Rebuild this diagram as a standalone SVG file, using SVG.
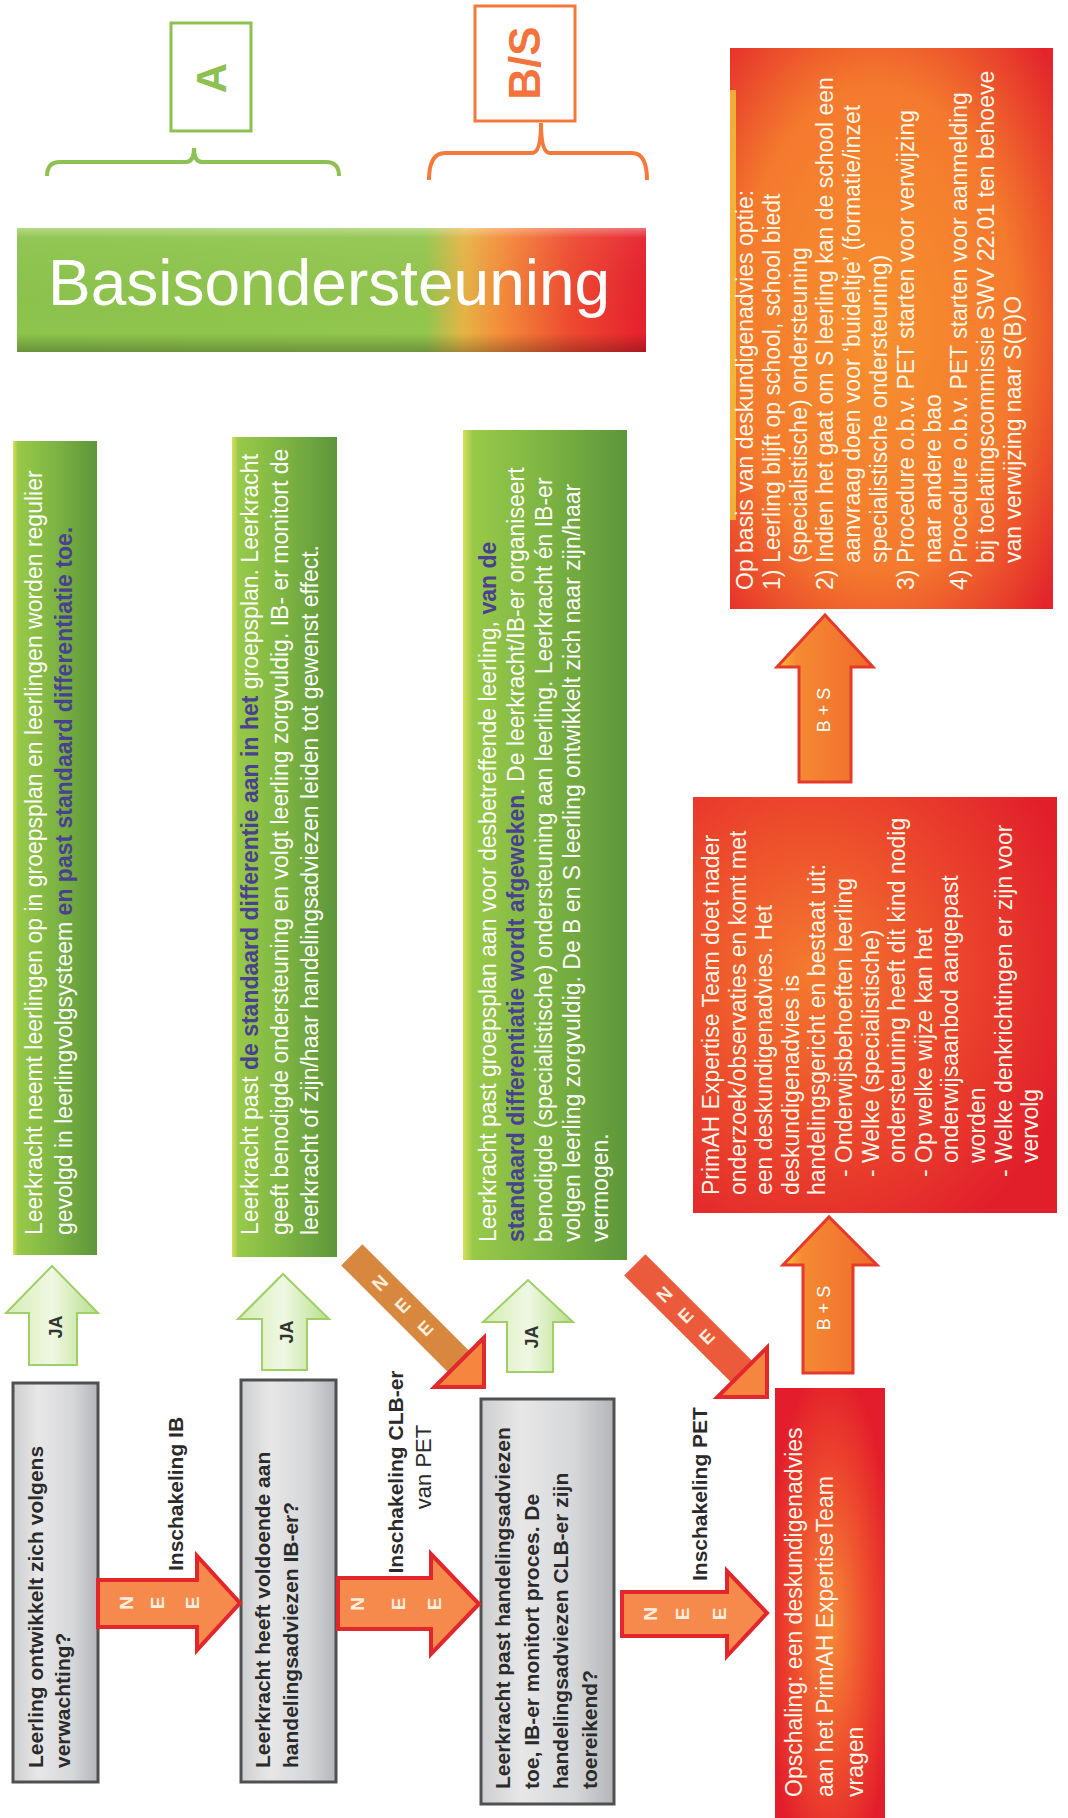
<svg xmlns="http://www.w3.org/2000/svg" width="1068" height="1818" viewBox="0 0 1068 1818">
<defs>
<linearGradient id="gBar" x1="0" y1="0" x2="1" y2="0">
<stop offset="0" stop-color="#8cc44c"/><stop offset="0.65" stop-color="#93c64e"/><stop offset="0.71" stop-color="#e6b445"/><stop offset="0.77" stop-color="#f48c3a"/><stop offset="0.88" stop-color="#ee4a30"/><stop offset="1" stop-color="#e61f2d"/>
</linearGradient>
<linearGradient id="gBevel" x1="0" y1="0" x2="0" y2="1">
<stop offset="0" stop-color="#fff" stop-opacity="0.35"/><stop offset="0.08" stop-color="#fff" stop-opacity="0.05"/><stop offset="0.85" stop-color="#000" stop-opacity="0"/><stop offset="1" stop-color="#000" stop-opacity="0.25"/>
</linearGradient>
<linearGradient id="gGreen" x1="0" y1="0" x2="1" y2="0">
<stop offset="0" stop-color="#d8e05a"/><stop offset="0.06" stop-color="#98c948"/><stop offset="0.5" stop-color="#7db443"/><stop offset="1" stop-color="#5d963b"/>
</linearGradient>
<linearGradient id="gGrey" x1="0" y1="0" x2="1" y2="0">
<stop offset="0" stop-color="#cdcecf"/><stop offset="0.3" stop-color="#e7e7e8"/><stop offset="0.7" stop-color="#d6d7d9"/><stop offset="1" stop-color="#b3b5b8"/>
</linearGradient>
<radialGradient id="gOrange" cx="0.45" cy="0.5" r="0.72">
<stop offset="0" stop-color="#f7902f"/><stop offset="0.6" stop-color="#f47a2d"/><stop offset="1" stop-color="#e3242b"/>
</radialGradient>
<radialGradient id="gPrim" cx="0.32" cy="0.42" r="0.75">
<stop offset="0" stop-color="#f47a2e"/><stop offset="0.5" stop-color="#ec4a2c"/><stop offset="1" stop-color="#e11f2b"/>
</radialGradient>
<radialGradient id="gOps" cx="0.5" cy="0.55" r="0.6">
<stop offset="0" stop-color="#f68a38"/><stop offset="0.55" stop-color="#ee4d2e"/><stop offset="1" stop-color="#e31d2b"/>
</radialGradient>
<linearGradient id="gJa" x1="0" y1="0" x2="1" y2="0">
<stop offset="0" stop-color="#d3edb1"/><stop offset="0.5" stop-color="#eff8e3"/><stop offset="1" stop-color="#b8df8a"/>
</linearGradient>
<linearGradient id="gBS" x1="0" y1="0" x2="1" y2="0">
<stop offset="0" stop-color="#f9c23c"/><stop offset="0.2" stop-color="#f58a32"/><stop offset="1" stop-color="#ef6a2c"/>
</linearGradient>
<style>
.t{font-family:"Liberation Sans",Arial,sans-serif}
.gw{fill:#ffffff;font-size:23px}
.b{font-weight:bold;fill:#4a4090}
.ow{fill:#fff6e8;font-size:23px}
.gq{fill:#2a2a2a;font-size:21px;font-weight:bold}
.lbl{fill:#2a2a2a;font-size:21px;font-weight:bold}
.ja{fill:url(#gJa);stroke:#9fcf66;stroke-width:2}
.nee{fill:#f68a4c;stroke:#e3252c;stroke-width:4;stroke-linejoin:miter}
.bs{fill:url(#gBS);stroke:#e53a2a;stroke-width:3}
.nl{fill:#ffeedd;font-size:19px;font-weight:bold}
.grey{fill:url(#gGrey);stroke:#505050;stroke-width:3}
.green{fill:url(#gGreen)}
</style>
</defs>

<g id="label-A">
<rect x="171" y="23" width="80" height="108" fill="none" stroke="#8cc152" stroke-width="3"/>
<text class="t" transform="translate(226,78) rotate(-90)" text-anchor="middle" font-size="42" font-weight="bold" fill="#8cc152">A</text>
</g>
<g id="label-BS">
<rect x="475" y="6" width="100" height="115" fill="none" stroke="#f4773c" stroke-width="3"/>
<text class="t" transform="translate(540,63) rotate(-90)" text-anchor="middle" font-size="44" font-weight="bold" fill="#f4733c">B/S</text>
</g>
<g id="brace-A">
<path d="M47,176 Q47,162 60,162 L186,162 Q194,162 194,148 Q194,162 202,162 L326,162 Q339,162 339,176" fill="none" stroke="#8dc153" stroke-width="4"/>
</g>
<g id="brace-BS">
<path d="M429,180 Q429,153 445,153 L532,153 Q541,153 541,123 Q541,153 550,153 L632,153 Q647,153 647,180" fill="none" stroke="#f5793b" stroke-width="4"/>
</g>

<g id="basisondersteuning">
<rect x="17" y="228" width="629" height="124" fill="url(#gBar)"/>
<rect x="17" y="228" width="629" height="124" fill="url(#gBevel)"/>
<text class="t" x="48" y="305" font-size="64" fill="#ffffff">Basisondersteuning</text>
</g>

<g id="green-1">
<rect class="green" x="13" y="441" width="84" height="814"/>
<text class="t gw" transform="translate(0,1235) rotate(-90)"><tspan x="0" y="42">Leerkracht neemt leerlingen op in groepsplan en leerlingen worden regulier</tspan><tspan x="0" y="72">gevolgd in leerlingvolgsysteem <tspan class="b">en past standaard differentiatie toe.</tspan></tspan></text>
</g>
<g id="green-2">
<rect class="green" x="232" y="437" width="105" height="820"/>
<text class="t gw" transform="translate(0,1235) rotate(-90)"><tspan x="0" y="258">Leerkracht past <tspan class="b">de standaard differentie aan in het</tspan> groepsplan. Leerkracht</tspan><tspan x="0" y="288">geeft benodigde ondersteuning en volgt leerling zorgvuldig. IB- er monitort de</tspan><tspan x="0" y="318">leerkracht of zijn/haar handelingsadviezen leiden tot gewenst effect.</tspan></text>
</g>
<g id="green-3">
<rect class="green" x="463" y="430" width="164" height="830"/>
<text class="t gw" transform="translate(0,1242) rotate(-90)"><tspan x="0" y="496">Leerkracht past groepsplan aan voor desbetreffende leerling, <tspan class="b">van de</tspan></tspan><tspan x="0" y="524"><tspan class="b">standaard differentiatie wordt afgeweken</tspan>. De leerkracht/IB-er organiseert</tspan><tspan x="0" y="552">benodigde (specialistische) ondersteuning aan leerling. Leerkracht én IB-er</tspan><tspan x="0" y="580">volgen leerling zorgvuldig. De B en S leerling ontwikkelt zich naar zijn/haar</tspan><tspan x="0" y="608">vermogen.</tspan></text>
</g>

<g id="opbasis">
<rect x="730" y="48" width="323" height="561" fill="url(#gOrange)"/>
<rect x="730" y="90" width="6" height="430" fill="#f3c63a" opacity="0.8"/>
<text class="t ow" transform="translate(0,590) rotate(-90)"><tspan x="0" y="753">Op basis van deskundigenadvies optie:</tspan><tspan x="0" y="780">1)</tspan><tspan x="27" y="780">Leerling blijft op school, school biedt</tspan><tspan x="27" y="807">(specialistische) ondersteuning</tspan><tspan x="0" y="833">2)</tspan><tspan x="27" y="833">Indien het gaat om S leerling kan de school een</tspan><tspan x="27" y="860">aanvraag doen voor ‘buideltje’ (formatie/inzet</tspan><tspan x="27" y="887">specialistische ondersteuning)</tspan><tspan x="0" y="914">3)</tspan><tspan x="27" y="914">Procedure o.b.v. PET starten voor verwijzing</tspan><tspan x="27" y="941">naar andere bao</tspan><tspan x="0" y="967">4)</tspan><tspan x="27" y="967">Procedure o.b.v. PET starten voor aanmelding</tspan><tspan x="27" y="994">bij toelatingscommissie SWV 22.01 ten behoeve</tspan><tspan x="27" y="1021">van verwijzing naar S(B)O</tspan></text>
</g>

<g id="primah">
<rect x="693" y="797" width="364" height="416" fill="url(#gPrim)"/>
<text class="t ow" transform="translate(0,1195) rotate(-90)"><tspan x="0" y="719">PrimAH Expertise Team doet nader</tspan><tspan x="0" y="746">onderzoek/observaties en komt met</tspan><tspan x="0" y="772">een deskundigenadvies. Het</tspan><tspan x="0" y="799">deskundigenadvies is</tspan><tspan x="0" y="825">handelingsgericht en bestaat uit:</tspan><tspan x="18" y="852">-</tspan><tspan x="32" y="852">Onderwijsbehoeften leerling</tspan><tspan x="18" y="879">-</tspan><tspan x="32" y="879">Welke (specialistische)</tspan><tspan x="32" y="905">ondersteuning heeft dit kind nodig</tspan><tspan x="18" y="932">-</tspan><tspan x="32" y="932">Op welke wijze kan het</tspan><tspan x="32" y="958">onderwijsaanbod aangepast</tspan><tspan x="32" y="985">worden</tspan><tspan x="18" y="1012">-</tspan><tspan x="32" y="1012">Welke denkrichtingen er zijn voor</tspan><tspan x="32" y="1038">vervolg</tspan></text>
</g>

<g id="opschaling">
<rect x="775" y="1388" width="110" height="432" fill="url(#gOps)"/>
<text class="t ow" transform="translate(0,1797) rotate(-90)"><tspan x="0" y="802">Opschaling: een deskundigenadvies</tspan><tspan x="0" y="833">aan het PrimAH ExpertiseTeam</tspan><tspan x="0" y="863">vragen</tspan></text>
</g>

<g id="question-1">
<rect class="grey" x="13" y="1383" width="85" height="399"/>
<text class="t gq" transform="translate(0,1768) rotate(-90)"><tspan x="0" y="43">Leerling ontwikkelt zich volgens</tspan><tspan x="0" y="70">verwachting?</tspan></text>
</g>
<g id="question-2">
<rect class="grey" x="241" y="1380" width="95" height="402"/>
<text class="t gq" transform="translate(0,1768) rotate(-90)"><tspan x="0" y="270">Leerkracht heeft voldoende aan</tspan><tspan x="0" y="298">handelingsadviezen IB-er?</tspan></text>
</g>
<g id="question-3">
<rect class="grey" x="481" y="1399" width="133" height="405"/>
<text class="t gq" transform="translate(0,1789) rotate(-90)"><tspan x="0" y="510">Leerkracht past handelingsadviezen</tspan><tspan x="0" y="539">toe, IB-er monitort proces. De</tspan><tspan x="0" y="568">handelingsadviezen CLB-er zijn</tspan><tspan x="0" y="597">toereikend?</tspan></text>
</g>

<g id="connectors">
<polygon class="ja" points="29,1365 29,1313 6,1313 52,1266 98,1313 77,1313 77,1365"/>
<text class="t" transform="translate(62,1327) rotate(-90)" text-anchor="middle" font-size="18" font-weight="bold" fill="#333">JA</text>
<polygon class="ja" points="262,1370 262,1319 238,1319 283,1274 329,1319 307,1319 307,1370"/>
<text class="t" transform="translate(293,1332) rotate(-90)" text-anchor="middle" font-size="18" font-weight="bold" fill="#333">JA</text>
<polygon class="ja" points="507,1372 507,1322 483,1322 528,1280 573,1322 553,1322 553,1372"/>
<text class="t" transform="translate(538,1337) rotate(-90)" text-anchor="middle" font-size="18" font-weight="bold" fill="#333">JA</text>

<polygon class="nee" points="98,1580 197,1580 197,1556 240,1603 197,1650 197,1627 98,1627"/>
<text class="t nl" transform="translate(126,1603) rotate(-90)" text-anchor="middle" dominant-baseline="central">N</text>
<text class="t nl" transform="translate(157,1603) rotate(-90)" text-anchor="middle" dominant-baseline="central">E</text>
<text class="t nl" transform="translate(192,1603) rotate(-90)" text-anchor="middle" dominant-baseline="central">E</text>

<polygon class="nee" points="338,1578 431,1578 431,1554 479,1604 431,1654 431,1629 338,1629"/>
<text class="t nl" transform="translate(357,1604) rotate(-90)" text-anchor="middle" dominant-baseline="central">N</text>
<text class="t nl" transform="translate(398,1604) rotate(-90)" text-anchor="middle" dominant-baseline="central">E</text>
<text class="t nl" transform="translate(434,1604) rotate(-90)" text-anchor="middle" dominant-baseline="central">E</text>

<polygon class="nee" points="622,1592 727,1592 727,1571 767,1613 727,1656 727,1636 622,1636"/>
<text class="t nl" transform="translate(650,1614) rotate(-90)" text-anchor="middle" dominant-baseline="central">N</text>
<text class="t nl" transform="translate(682,1614) rotate(-90)" text-anchor="middle" dominant-baseline="central">E</text>
<text class="t nl" transform="translate(719,1614) rotate(-90)" text-anchor="middle" dominant-baseline="central">E</text>

<g transform="translate(484,1387) rotate(45)">
<polygon points="-187,-15 -33,-15 -33,15 -187,15" fill="#d8873f"/>
<polygon points="-35,-35 0,0 -35,35" fill="#f6853f" stroke="#e3282d" stroke-width="4"/>
<text class="t nl" transform="translate(-147,0) rotate(-90)" text-anchor="middle" dominant-baseline="central" fill="#f7dcb8">N</text>
<text class="t nl" transform="translate(-115,0) rotate(-90)" text-anchor="middle" dominant-baseline="central" fill="#f7dcb8">E</text>
<text class="t nl" transform="translate(-83,0) rotate(-90)" text-anchor="middle" dominant-baseline="central" fill="#f7dcb8">E</text>
</g>
<g transform="translate(767,1397) rotate(45)">
<polygon points="-187,-15 -33,-15 -33,15 -187,15" fill="#ec5a3c"/>
<polygon points="-35,-35 0,0 -35,35" fill="#f6853f" stroke="#e3282d" stroke-width="4"/>
<text class="t nl" transform="translate(-145,0) rotate(-90)" text-anchor="middle" dominant-baseline="central" fill="#fbe0d0">N</text>
<text class="t nl" transform="translate(-115,0) rotate(-90)" text-anchor="middle" dominant-baseline="central" fill="#fbe0d0">E</text>
<text class="t nl" transform="translate(-85,0) rotate(-90)" text-anchor="middle" dominant-baseline="central" fill="#fbe0d0">E</text>
</g>

<polygon class="bs" points="803,1373 803,1265 783,1265 829,1217 877,1265 853,1265 853,1373"/>
<text class="t" transform="translate(830,1308) rotate(-90)" text-anchor="middle" font-size="18" fill="#fff">B + S</text>
<polygon class="bs" points="799,782 799,667 777,667 825,615 873,667 851,667 851,782"/>
<text class="t" transform="translate(830,710) rotate(-90)" text-anchor="middle" font-size="18" fill="#fff">B + S</text>

<text class="t lbl" transform="translate(183,1571) rotate(-90)">Inschakeling IB</text>
<text class="t lbl" transform="translate(403,1472) rotate(-90)" text-anchor="middle">Inschakeling CLB-er</text>
<text class="t" transform="translate(431,1467) rotate(-90)" text-anchor="middle" font-size="22" fill="#2a2a2a">van PET</text>
<text class="t lbl" transform="translate(707,1581) rotate(-90)">Inschakeling PET</text>
</g>
</svg>
